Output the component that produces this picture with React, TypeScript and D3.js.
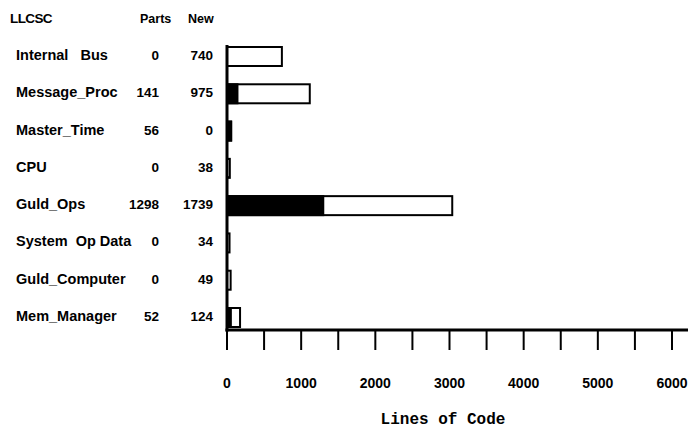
import * as d3 from "d3";

// LLCSC rows, read top to bottom
const llcsc = [
  "Internal   Bus",
  "Message_Proc",
  "Master_Time",
  "CPU",
  "Guld_Ops",
  "System  Op Data",
  "Guld_Computer",
  "Mem_Manager",
];
const parts = [0, 141, 56, 0, 1298, 0, 0, 52];
const newLines = [740, 975, 0, 38, 1739, 34, 49, 124];
const tickLabels = [0, 1000, 2000, 3000, 4000, 5000, 6000];

const W = 688;
const H = 429;
const sans = "'Liberation Sans', Arial, Helvetica, sans-serif";

export default function App() {
  const x = d3.scaleLinear().domain([0, 6000]).range([227, 672]);
  const y = d3.scalePoint<string>().domain(llcsc).range([56.5, 317.5]);
  const barH = 19;
  const axisY = 330;
  const minorTicks = d3.range(0, 6001, 500);

  return (
    <svg
      width={W}
      height={H}
      style={{ position: "absolute", left: 0, top: 0, background: "#fff" }}
      fontFamily={sans}
      fontWeight="bold"
    >
      {/* headers */}
      <text x={10} y={23} fontSize={13.5} letterSpacing={-0.6}>LLCSC</text>
      <text x={140} y={23} fontSize={12.5}>Parts</text>
      <text x={188} y={23} fontSize={12.5}>New</text>

      {/* row labels + numbers */}
      {llcsc.map((name, i) => {
        const base = (y(name) ?? 0) + 3.5;
        return (
          <g key={name}>
            <text x={16} y={base} fontSize={14.5} style={{ whiteSpace: "pre" }}>
              {name}
            </text>
            <text x={159} y={base} fontSize={13.5} textAnchor="end">{parts[i]}</text>
            <text x={213} y={base} fontSize={13.5} textAnchor="end">{newLines[i]}</text>
          </g>
        );
      })}

      {/* bars */}
      {llcsc.map((name, i) => {
        const top = (y(name) ?? 0) - barH / 2;
        const total = parts[i] + newLines[i];
        if (total === 0) return null;
        return (
          <g key={"b" + name}>
            <rect
              x={x(0)}
              y={top}
              width={x(total) - x(0)}
              height={barH}
              fill="#fff"
              stroke="#000"
              strokeWidth={2}
            />
            {parts[i] > 0 && (
              <rect x={x(0)} y={top} width={x(parts[i]) - x(0)} height={barH} fill="#000" stroke="#000" strokeWidth={2} />
            )}
          </g>
        );
      })}

      {/* axes */}
      <line x1={x(0)} x2={x(0)} y1={45} y2={axisY + 1.5} stroke="#000" strokeWidth={3} />
      <line x1={x(0) - 1.5} x2={W} y1={axisY} y2={axisY} stroke="#000" strokeWidth={3} />
      {minorTicks.map((t) => (
        <line key={t} x1={x(t)} x2={x(t)} y1={axisY} y2={axisY + 20} stroke="#000" strokeWidth={2} />
      ))}
      {tickLabels.map((t) => (
        <text key={t} x={x(t)} y={388} fontSize={14} textAnchor="middle">
          {t}
        </text>
      ))}

      <text
        x={443}
        y={424}
        fontSize={16}
        textAnchor="middle"
        fontFamily="'Liberation Mono', 'Courier New', monospace"
      >
        Lines of Code
      </text>
    </svg>
  );
}
